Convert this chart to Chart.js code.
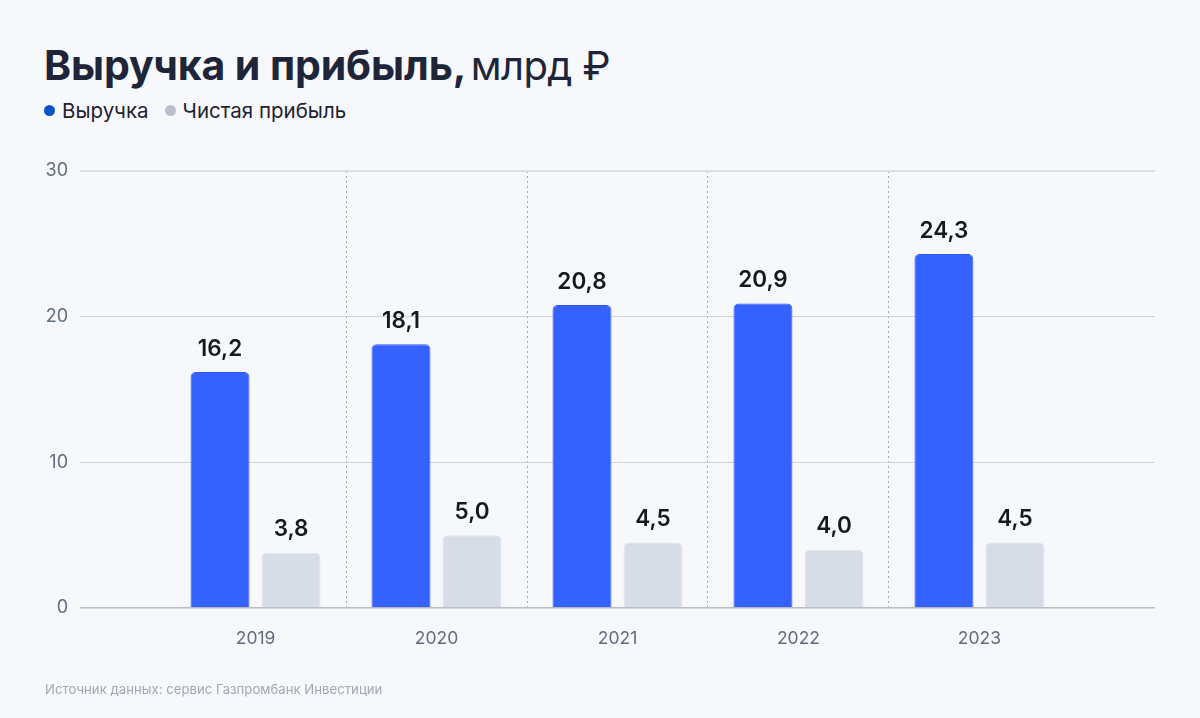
<!DOCTYPE html>
<html lang="ru">
<head>
<meta charset="utf-8">
<script src="https://cdn.jsdelivr.net/npm/chart.js@4.4.1/dist/chart.umd.min.js"></script>
<style>
  html, body { margin:0; padding:0; background:#f7f8fc; }
  #wrap { position:relative; width:1200px; height:718px; overflow:hidden; background:#f7f8fc; font-family: Inter, "Noto Sans", sans-serif; }
  #title { position:absolute; left:44px; top:40px; color:#1e2539; white-space:nowrap; }
  #title b { font-weight:700; font-size:41px; letter-spacing:-0.1px; }
  #title span { font-weight:400; font-size:40px; letter-spacing:-0.6px; }
  #legend { position:absolute; left:44px; top:98px; font-size:20.5px; color:#1f2230; display:flex; gap:16px; white-space:nowrap; }
  #legend .item { display:flex; align-items:center; }
  #legend .dot { width:11px; height:11px; border-radius:50%; margin-right:7px; }
  #footer { position:absolute; left:45px; top:681px; font-size:13.2px; color:#a3a7b2; white-space:nowrap; }
  #c { position:absolute; left:0; top:0; }
</style>
</head>
<body>
<div id="wrap">
  <div id="title"><b>Выручка и прибыль,</b> <span>млрд ₽</span></div>
  <div id="legend"></div>
  <canvas id="c" width="1200" height="718"></canvas>
  <div id="footer">Источник данных: сервис Газпромбанк Инвестиции</div>
</div>
<script>
const years = ['2019', '2020', '2021', '2022', '2023'];
const revenue = [16.2, 18.1, 20.8, 20.9, 24.3];
const netProfit = [3.8, 5.0, 4.5, 4.0, 4.5];
const yTicks = [0, 10, 20, 30];
const seriesNames = ['Выручка', 'Чистая прибыль'];
const legendColors = ['#0a53c6', '#babdcc'];

// HTML legend
const legendEl = document.getElementById('legend');
seriesNames.forEach((n, i) => {
  const it = document.createElement('div'); it.className = 'item';
  const d = document.createElement('div'); d.className = 'dot'; d.style.background = legendColors[i];
  const t = document.createElement('span'); t.textContent = n;
  it.appendChild(d); it.appendChild(t); legendEl.appendChild(it);
});

const fmt = v => v.toFixed(1).replace('.', ',');

const labelPlugin = {
  id: 'valueLabels',
  afterDatasetsDraw(chart) {
    const ctx = chart.ctx;
    ctx.save();
    ctx.font = '600 22.5px Inter, "Noto Sans", sans-serif';
    ctx.fillStyle = '#16181f';
    ctx.textAlign = 'center';
    ctx.textBaseline = 'bottom';
    chart.data.datasets.forEach((ds, di) => {
      const meta = chart.getDatasetMeta(di);
      meta.data.forEach((bar, i) => {
        ctx.fillText(fmt(ds.data[i].y), bar.x, bar.y - 12);
      });
    });
    ctx.restore();
  }
};

const toPoints = arr => arr.map((v, i) => ({ x: i, y: v }));

new Chart(document.getElementById('c'), {
  type: 'bar',
  data: {
    datasets: [
      {
        label: seriesNames[0],
        data: toPoints(revenue),
        backgroundColor: '#3561fe',
        borderColor: '#2c56f2',
        borderWidth: 1,
        borderRadius: { topLeft: 5, topRight: 5 },
        borderSkipped: 'start',
        categoryPercentage: 0.785,
        barPercentage: 0.83
      },
      {
        label: seriesNames[1],
        data: toPoints(netProfit),
        backgroundColor: '#d7dde7',
        borderColor: '#e1e5ed',
        borderWidth: 1,
        borderRadius: { topLeft: 5, topRight: 5 },
        borderSkipped: 'start',
        categoryPercentage: 0.785,
        barPercentage: 0.83
      }
    ]
  },
  options: {
    responsive: false,
    animation: false,
    events: [],
    layout: { padding: { left: 0, right: 45, top: 171, bottom: 50 } },
    plugins: { legend: { display: false }, title: { display: false }, tooltip: { enabled: false } },
    scales: {
      x: {
        type: 'linear',
        min: -0.97,
        max: 4.97,
        offset: false,
        afterBuildTicks: s => { s.ticks = years.map((_, i) => ({ value: i })); },
        afterFit: s => { s.height = 60; },
        ticks: {
          callback: v => years[v],
          color: '#626d7c',
          font: { family: 'Inter, "Noto Sans", sans-serif', size: 17.5 },
          padding: 20,
          autoSkip: false,
          maxRotation: 0
        },
        grid: {
          offset: true,
          drawTicks: false,
          color: c => (c.type !== 'tick' || c.index === 0 || c.index >= years.length) ? 'rgba(0,0,0,0)' : '#9ea3b6',
          lineWidth: 1
        },
        border: { display: false, dash: [2, 3] }
      },
      y: {
        min: 0,
        max: 30,
        afterBuildTicks: s => { s.ticks = yTicks.map(v => ({ value: v })); },
        afterFit: s => { s.width = 80; },
        ticks: {
          color: '#626d7c',
          font: { family: 'Inter, "Noto Sans", sans-serif', size: 18 },
          padding: 12
        },
        grid: {
          drawTicks: false,
          color: c => c.tick && c.tick.value === 0 ? '#bcbdc1' : (c.tick && c.tick.value === 30 ? '#dddee1' : '#d3d4d8'),
          lineWidth: c => c.tick && c.tick.value === 30 ? 2 : (c.tick && c.tick.value === 0 ? 1.5 : 1)
        },
        border: { display: false }
      }
    }
  },
  plugins: [labelPlugin]
});
</script>
</body>
</html>
